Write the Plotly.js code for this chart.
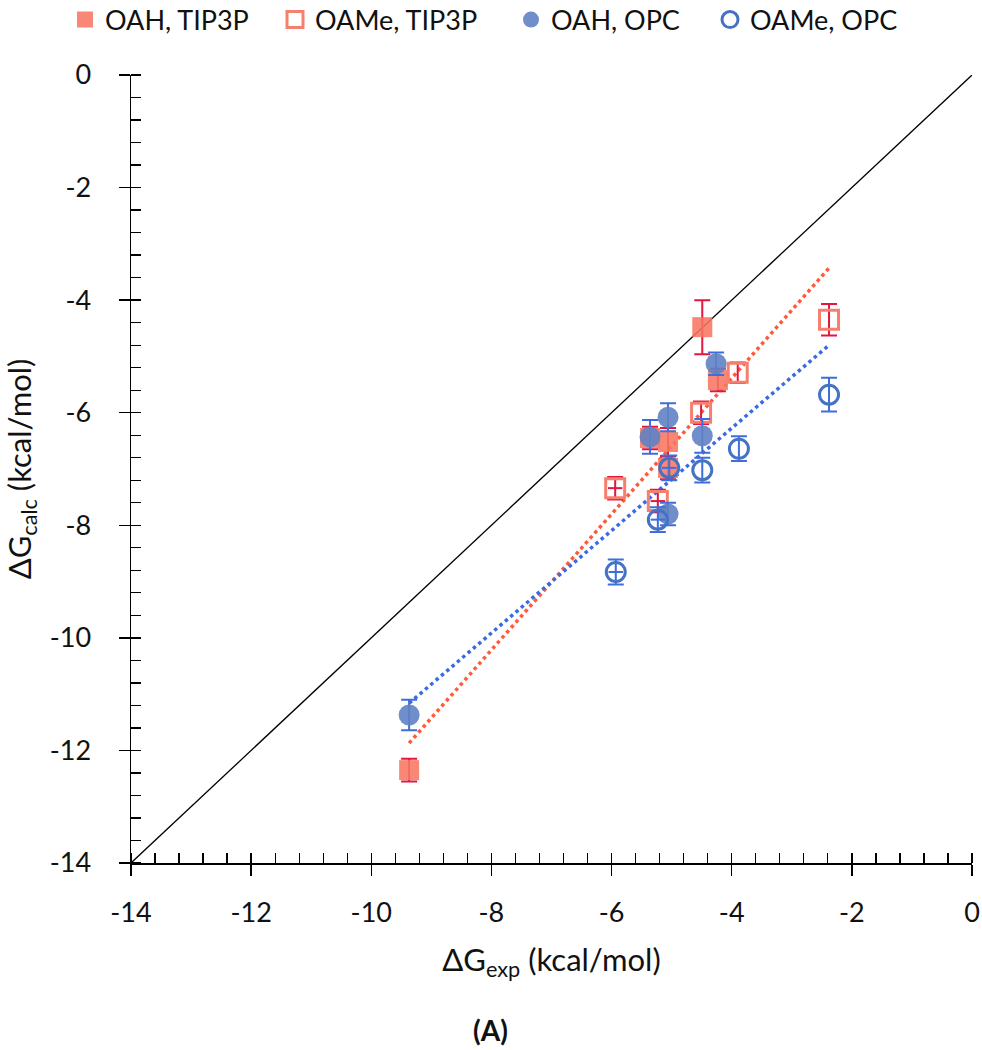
<!DOCTYPE html>
<html>
<head>
<meta charset="utf-8">
<script src="https://cdn.plot.ly/plotly-3.0.1.min.js"></script>
<style>html,body{margin:0;padding:0;background:#fff;}#chart{width:982px;height:1050px;}</style>
</head>
<body>
<div id="chart"></div>
<script>
// ---- data ----
const oahTip3pX   = [-9.37, -5.36, -5.06, -5.06, -4.49, -4.23];
const oahTip3pY   = [-12.35, -6.45, -6.52, -6.98, -4.48, -5.42];
const oahTip3pErr = [0.2, 0.2, 0.25, 0.2, 0.48, 0.2];

const oameTip3pX    = [-5.94, -5.23, -4.51, -3.90, -2.38];
const oameTip3pY    = [-7.34, -7.57, -6.00, -5.29, -4.35];
const oameTip3pErr  = [0.2, 0.2, 0.2, 0.18, 0.28];
const oameTip3pXErr = [0.12, 0.12, 0, 0, 0];

const oahOpcX   = [-9.37, -5.36, -5.06, -5.06, -4.49, -4.26];
const oahOpcY   = [-11.37, -6.43, -6.08, -7.80, -6.41, -5.13];
const oahOpcErr = [0.27, 0.3, 0.25, 0.2, 0.3, 0.2];

const oameOpcX    = [-5.93, -5.23, -5.04, -4.49, -3.88, -2.38];
const oameOpcY    = [-8.83, -7.90, -6.98, -7.02, -6.64, -5.68];
const oameOpcErr  = [0.22, 0.22, 0.22, 0.22, 0.22, 0.3];
const oameOpcXErr = [0.12, 0.12, 0.12, 0, 0, 0];

const tip3pFitX = [-9.37, -2.38];
const tip3pFitY = [-11.87, -3.43];
const opcFitX   = [-9.37, -2.38];
const opcFitY   = [-11.16, -4.80];

const diagX = [-14, 0];
const diagY = [-14, 0];

const axisRange = [-14, 0];
const tickVals  = [-14, -12, -10, -8, -6, -4, -2, 0];
const tickText  = ['-14', '-12', '-10', '-8', '-6', '-4', '-2', '0'];

// ---- styles ----
const FONT = 'Lato, "Open Sans", sans-serif';
const redFill = 'rgba(247,118,98,0.88)';
const redLine = 'rgb(246,128,110)';
const redErr  = '#E2163E';
const redFit  = '#FF5A3C';
const blueFill = 'rgba(96,130,196,0.9)';
const blueLine = '#4472C4';
const blueErr  = '#3D6EDC';
const blueFit  = '#3A6AE6';

const traces = [
  {x: diagX, y: diagY, mode: 'lines', line: {color: '#000', width: 1.3}, showlegend: false, hoverinfo: 'skip'},
  {x: tip3pFitX, y: tip3pFitY, mode: 'lines', line: {color: redFit, width: 3.5, dash: 'dot'}, showlegend: false, hoverinfo: 'skip'},
  {x: opcFitX, y: opcFitY, mode: 'lines', line: {color: blueFit, width: 3.5, dash: 'dot'}, showlegend: false, hoverinfo: 'skip'},
  {
    name: 'OAH, TIP3P', x: oahTip3pX, y: oahTip3pY, mode: 'markers', type: 'scatter', legend: 'legend',
    marker: {symbol: 'square', size: 20, color: redFill, line: {width: 0}},
    error_y: {type: 'data', array: oahTip3pErr, visible: true, color: redErr, thickness: 2, width: 8}
  },
  {
    name: 'OAMe, TIP3P', x: oameTip3pX, y: oameTip3pY, mode: 'markers', type: 'scatter', legend: 'legend2',
    marker: {symbol: 'square-open', size: 19, color: redLine, line: {width: 3, color: redLine}},
    error_y: {type: 'data', array: oameTip3pErr, visible: true, color: redErr, thickness: 2, width: 8},
    error_x: {type: 'data', array: oameTip3pXErr, visible: true, color: redErr, thickness: 2, width: 0}
  },
  {
    name: 'OAH, OPC', x: oahOpcX, y: oahOpcY, mode: 'markers', type: 'scatter', legend: 'legend3',
    marker: {symbol: 'circle', size: 21, color: blueFill, line: {width: 0}},
    error_y: {type: 'data', array: oahOpcErr, visible: true, color: blueErr, thickness: 2, width: 8}
  },
  {
    name: 'OAMe, OPC', x: oameOpcX, y: oameOpcY, mode: 'markers', type: 'scatter', legend: 'legend4',
    marker: {symbol: 'circle-open', size: 19, color: blueLine, line: {width: 3, color: blueLine}},
    error_y: {type: 'data', array: oameOpcErr, visible: true, color: blueErr, thickness: 2, width: 8},
    error_x: {type: 'data', array: oameOpcXErr, visible: true, color: blueErr, thickness: 2, width: 0}
  },
  // empty trace that carries the overlay axes used for the inner half of the major ticks
  {x: [], y: [], xaxis: 'x2', yaxis: 'y2', mode: 'markers', showlegend: false, hoverinfo: 'skip'}
];

const baseAxis = {
  range: axisRange, tickmode: 'array', tickvals: tickVals, ticktext: tickText,
  showgrid: false, zeroline: false,
  showline: true, linecolor: '#000', linewidth: 1.5,
  ticks: 'outside', ticklen: 11, tickwidth: 1.5, tickcolor: '#000',
  tickfont: {family: FONT, size: 27, color: '#111'},
  minor: {tickmode: 'linear', tick0: 0, dtick: 0.4, ticks: 'inside', ticklen: 10, tickwidth: 1.3, tickcolor: '#000', showgrid: false}
};

function legendAt(px) {
  return {
    orientation: 'h', xref: 'container', yref: 'container', x: px / 982, y: 1 - 20 / 1050,
    xanchor: 'left', yanchor: 'middle',
    font: {family: FONT, size: 27, color: '#111'}, itemwidth: 30,
    bgcolor: 'rgba(0,0,0,0)'
  };
}

const layout = {
  width: 982, height: 1050,
  margin: {l: 131, r: 10, t: 75, b: 187, autoexpand: false},
  paper_bgcolor: '#fff', plot_bgcolor: '#fff',
  font: {family: FONT, color: '#111'},
  showlegend: true,
  legend: legendAt(65),
  legend2: legendAt(275),
  legend3: legendAt(511),
  legend4: legendAt(710),
  xaxis: Object.assign({}, baseAxis, {
    ticklabelstandoff: 14,
    title: {text: 'ΔG<sub>exp</sub> (kcal/mol)', font: {family: FONT, size: 31, color: '#111'}, standoff: 22}
  }),
  yaxis: Object.assign({}, baseAxis, {
    ticklabelstandoff: 22,
    title: {text: 'ΔG<sub>calc</sub> (kcal/mol)', font: {family: FONT, size: 31, color: '#111'}, standoff: 10}
  }),
  xaxis2: {range: axisRange, overlaying: 'x', anchor: 'y2', side: 'bottom', tickmode: 'array', tickvals: tickVals,
    ticks: 'inside', ticklen: 10, tickwidth: 1.5, tickcolor: '#000', showticklabels: false,
    showgrid: false, zeroline: false, showline: false},
  yaxis2: {range: axisRange, overlaying: 'y', anchor: 'x2', side: 'left', tickmode: 'array', tickvals: tickVals,
    ticks: 'inside', ticklen: 10, tickwidth: 1.5, tickcolor: '#000', showticklabels: false,
    showgrid: false, zeroline: false, showline: false},
  annotations: [
    {text: '<b>(A)</b>', xref: 'paper', yref: 'paper', x: (490 - 131) / 841, y: -(1030 - 863) / 788,
     xanchor: 'center', yanchor: 'middle', showarrow: false, font: {family: FONT, size: 28, color: '#111'}}
  ]
};

Plotly.newPlot('chart', traces, layout, {staticPlot: true, displayModeBar: false});
</script>
</body>
</html>
